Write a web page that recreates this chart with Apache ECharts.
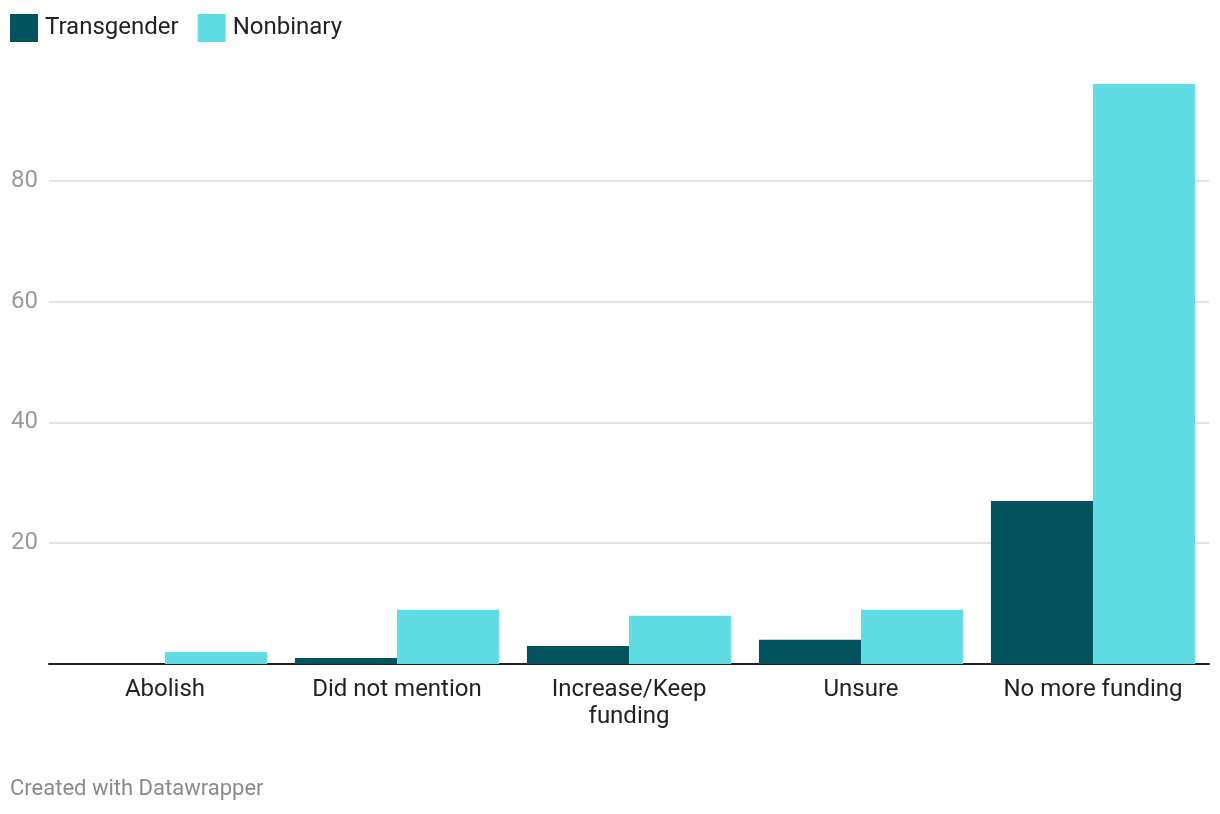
<!DOCTYPE html>
<html><head><meta charset="utf-8">
<script src="https://cdn.jsdelivr.net/npm/echarts@6/dist/echarts.min.js"></script>
<style>html,body{margin:0;padding:0;background:#fff}#c{width:1220px;height:814px}</style>
</head><body><div id="c"></div>
<script>
const categories = ['Abolish', 'Did not mention', 'Increase/Keep\nfunding', 'Unsure', 'No more funding'];
const transgender = [0, 1, 3, 4, 27];
const nonbinary = [2, 9, 8, 9, 96];
const yTicks = [20, 40, 60, 80];

const chart = echarts.init(document.getElementById('c'));
chart.setOption({
  animation: false,
  textStyle: { fontFamily: 'Roboto' },
  legend: {
    left: 5, top: 9, itemWidth: 28, itemHeight: 28, itemGap: 19,
    icon: 'rect',
    textStyle: { fontSize: 24, color: '#222', fontFamily: 'Roboto', padding: [0, 0, 0, 2] },
    data: ['Transgender', 'Nonbinary']
  },
  graphic: [{
    type: 'text', left: 10, top: 778,
    style: { text: 'Created with Datawrapper', fontSize: 22, fill: '#8a8a8a', fontFamily: 'Roboto' }
  }],
  grid: { left: 49, right: 11, top: 84, bottom: 150 },
  xAxis: {
    type: 'category', data: categories,
    axisLine: { lineStyle: { color: '#222', width: 2 } },
    axisTick: { show: false },
    axisLabel: { interval: 0, fontSize: 24, color: '#222', margin: 12, lineHeight: 27, fontFamily: 'Roboto' }
  },
  yAxis: {
    type: 'value', min: 0, max: 96, interval: 20,
    axisLine: { show: false }, axisTick: { show: false },
    axisLabel: {
      fontSize: 24, color: '#9a9a9a', margin: 11, fontFamily: 'Roboto',
      formatter: v => yTicks.includes(v) ? String(v) : ''
    },
    splitLine: { lineStyle: { color: ['transparent', '#e3e3e3', '#e3e3e3', '#e3e3e3', '#e3e3e3', 'transparent'], width: 2 } }
  },
  series: [
    { name: 'Transgender', type: 'bar', data: transgender, itemStyle: { color: '#01535e' }, barGap: '0%', barCategoryGap: '12%' },
    { name: 'Nonbinary', type: 'bar', data: nonbinary, itemStyle: { color: '#60dce5' }, barGap: '0%', barCategoryGap: '12%' }
  ]
});
</script></body></html>
